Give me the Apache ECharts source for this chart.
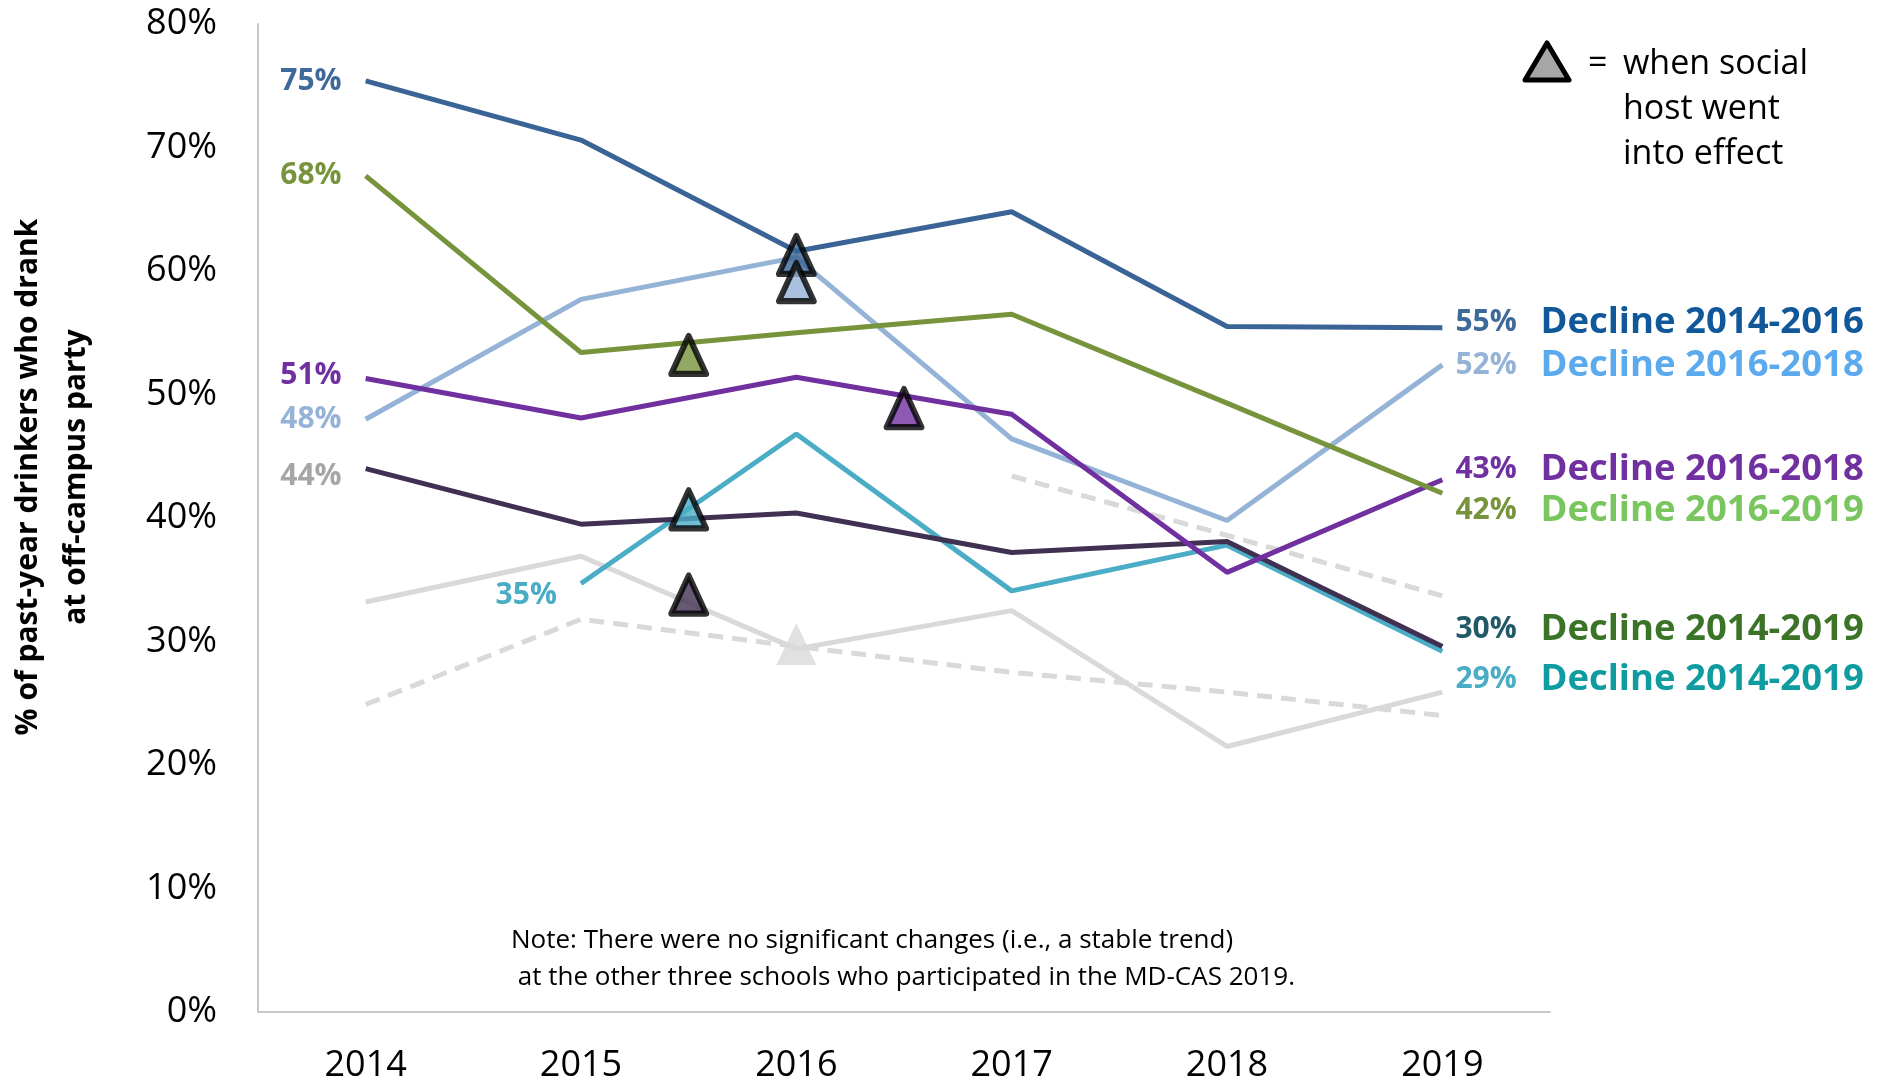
<!DOCTYPE html>
<html>
<head>
<meta charset="utf-8">
<script src="https://cdn.jsdelivr.net/npm/echarts@6/dist/echarts.min.js"></script>
<style>
  html, body { margin: 0; padding: 0; background: #fff; }
  #chart { width: 1881px; height: 1085px; }
</style>
</head>
<body>
<div id="chart"></div>
<script>
// survey years
const years = [2014, 2015, 2016, 2017, 2018, 2019];

// % of past-year drinkers who drank at an off-campus party, per school
const schoolA = [75.4, 70.6, 61.6, 64.8, 55.5, 55.4];
const schoolB = [48.0, 57.7, 61.1, 46.4, 39.8, 52.4];
const schoolC = [67.7, 53.4, 55.0, 56.5, 49.3, 42.0];
const schoolD = [51.3, 48.1, 51.4, 48.4, 35.6, 43.1];
const schoolE = [44.0, 39.5, 40.4, 37.2, 38.1, 29.6];
const schoolF = [null, 34.7, 46.8, 34.1, 37.8, 29.2];
// schools with a stable trend (grey)
const stableA = [33.2, 36.9, 29.4, 32.5, 21.5, 25.9];
const stableB = [24.9, 31.8, 29.6, 27.5, 25.9, 24.0];
const stableC = [null, null, null, 43.4, 38.6, 33.7];

// when social host went into effect (triangles)
const hostYear  = [2016, 2016, 2015.5, 2016.5, 2015.5, 2015.5, 2016];
const hostValue = [61.3, 59.1, 53.2, 48.9, 40.7, 33.8, 29.8];

// end-of-line notes
const declineNotes = ['Decline 2014-2016', 'Decline 2016-2018', 'Decline 2016-2019',
  'Decline 2016-2018', 'Decline 2014-2019', 'Decline 2014-2019'];

const yTicks = [0, 10, 20, 30, 40, 50, 60, 70, 80];

const FONT = "'Open Sans', 'Noto Sans', sans-serif";

// styles per school line (order: A B C D E F)
const lineStyles = [
  { data: schoolA, color: '#3A6496', left: '#3E6A9A', right: '#3E6A9A', note: '#10589A', ldy: 1, rdy: -5 },
  { data: schoolB, color: '#95B3D7', left: '#95B3D7', right: '#95B3D7', note: '#5BAAEE', ldy: 0, rdy: 1 },
  { data: schoolC, color: '#77933C', left: '#77933C', right: '#77933C', note: '#79C65E', ldy: 0, rdy: 17 },
  { data: schoolD, color: '#7030A0', left: '#7030A0', right: '#7030A0', note: '#7030A0', ldy: -3, rdy: -10 },
  { data: schoolE, color: '#403152', left: '#A6A6A6', right: '#215967', note: '#3B7427', ldy: 8, rdy: -17 },
  { data: schoolF, color: '#4BACC6', left: '#4BACC6', right: '#4BACC6', note: '#0E9CA0', ldy: 12, rdy: 28 }
];
const hostColors = ['#3A6496', '#95B3D7', '#77933C', '#7030A0', '#4BACC6', '#403152', '#D9D9D9'];

function pairs(arr) {
  return years.map((y, i) => [y, arr[i]]);
}

const series = [];

// grey stable-trend lines at the back
[[stableB, 'dashed'], [stableC, 'dashed'], [stableA, 'solid']].forEach(([arr, kind]) => {
  series.push({
    type: 'line',
    data: pairs(arr),
    symbol: 'none',
    silent: true,
    lineStyle: { color: '#D9D9D9', width: 5, type: kind === 'dashed' ? [15, 9] : 'solid' }
  });
});

const drawOrder = [5, 4, 1, 3, 2, 0];
drawOrder.forEach(k => {
  const s = lineStyles[k];
  const first = s.data.findIndex(v => v !== null);
  const last = s.data.length - 1;
  const data = years.map((y, i) => {
    const item = { value: [y, s.data[i]] };
    if (i === first) {
      item.label = {
        show: true, position: 'left', distance: 24, offset: [0, s.ldy],
        formatter: Math.round(s.data[i]) + '%',
        color: s.left, fontSize: 30, fontWeight: 'bold', fontFamily: FONT
      };
    } else if (i === last) {
      item.label = {
        show: true, position: 'right', distance: 13, offset: [0, s.rdy],
        formatter: '{p|' + Math.round(s.data[i]) + '%}{d|' + declineNotes[k] + '}',
        rich: {
          p: { color: s.right, fontSize: 30, fontWeight: 'bold', fontFamily: FONT, width: 85 },
          d: { color: s.note, fontSize: 36.5, fontWeight: 'bold', fontFamily: FONT }
        }
      };
    }
    return item;
  });
  series.push({
    type: 'line',
    data: data,
    symbol: 'circle',
    symbolSize: 0.1,
    showSymbol: true,
    silent: true,
    lineStyle: { color: s.color, width: 5 },
    itemStyle: { color: s.color },
    z: 3
  });
});

// social host triangles
series.push({
  type: 'scatter',
  z: 5,
  silent: true,
  symbol: 'triangle',
  data: hostYear.map((x, i) => ({
    value: [x, hostValue[i]],
    symbolSize: i === hostYear.length - 1 ? [40, 42] : [35, 38],
    itemStyle: {
      color: hostColors[i],
      borderColor: i === hostYear.length - 1 ? 'transparent' : '#000',
      borderWidth: i === hostYear.length - 1 ? 0 : 6,
      borderJoin: 'round'
    }
  }))
});

const chart = echarts.init(document.getElementById('chart'));
chart.setOption({
  animation: false,
  backgroundColor: '#fff',
  grid: { left: 258, top: 24, right: 331, bottom: 73, containLabel: false },
  xAxis: {
    type: 'value',
    min: 2013.5,
    max: 2019.5,
    interval: 0.5,
    splitLine: { show: false },
    axisTick: { show: false },
    axisLine: { lineStyle: { color: '#C8C8C8', width: 2 } },
    axisLabel: {
      margin: 36,
      color: '#000',
      fontSize: 36,
      fontFamily: FONT,
      formatter: v => (Number.isInteger(v) && years.includes(v)) ? String(v) : ''
    }
  },
  yAxis: {
    type: 'value',
    min: yTicks[0],
    max: yTicks[yTicks.length - 1],
    interval: 10,
    splitLine: { show: false },
    axisTick: { show: false },
    axisLine: { show: true, lineStyle: { color: '#C8C8C8', width: 2 } },
    axisLabel: {
      margin: 41,
      color: '#000',
      fontSize: 36,
      fontFamily: FONT,
      formatter: '{value}%'
    }
  },
  graphic: [
    {
      type: 'text',
      x: 52, y: 477,
      rotation: Math.PI / 2,
      style: {
        text: '% of past-year drinkers who drank\nat off-campus party',
        align: 'center', verticalAlign: 'middle',
        font: "bold 30px 'Open Sans', sans-serif",
        lineHeight: 48,
        fill: '#000'
      }
    },
    {
      type: 'polygon',
      shape: { points: [[1547, 43], [1569, 80], [1525, 80]] },
      style: { fill: '#A6A6A6', stroke: '#000', lineWidth: 5, lineJoin: 'round' }
    },
    {
      type: 'text',
      x: 1588, y: 42,
      style: { text: '=', font: "34px 'Open Sans', sans-serif", lineHeight: 45, fill: '#000' }
    },
    {
      type: 'text',
      x: 1623, y: 42,
      style: {
        text: 'when social\nhost went\ninto effect',
        font: "34px 'Open Sans', sans-serif", lineHeight: 45, fill: '#000'
      }
    },
    {
      type: 'text',
      x: 511, y: 922,
      style: {
        text: 'Note: There were no significant changes (i.e., a stable trend)\n at the other three schools who participated in the MD-CAS 2019.',
        font: "26px 'Open Sans', sans-serif", lineHeight: 37, fill: '#000'
      }
    }
  ],
  series: series
});
</script>
</body>
</html>
